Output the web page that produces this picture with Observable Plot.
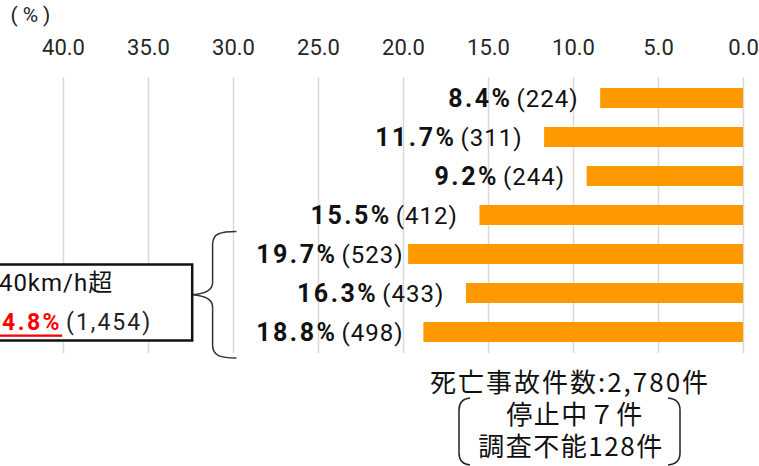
<!DOCTYPE html>
<html>
<head>
<meta charset="utf-8">
<script src="https://cdn.jsdelivr.net/npm/d3@7"></script>
<script src="https://cdn.jsdelivr.net/npm/@observablehq/plot@0.6"></script>
<style>
  html, body { margin: 0; padding: 0; background: #fff; }
  #chart svg { display: block; overflow: visible; }
</style>
</head>
<body>
<div id="chart"></div>
<script>
// Speed bands (not drawn as axis labels), share of fatal accidents (%) and counts
const categories = ["10km/h以下", "10〜20km/h", "20〜30km/h", "30〜40km/h", "40〜50km/h", "50〜60km/h", "60km/h超"];
const shares = [8.4, 11.7, 9.2, 15.5, 19.7, 16.3, 18.8];
const counts = [224, 311, 244, 412, 523, 433, 498];
const xTicks = [0, 5, 10, 15, 20, 25, 30, 35, 40];

// Bands grouped by the brace (above 40 km/h)
const overGroup = ["40〜50km/h", "50〜60km/h", "60km/h超"];
const groupLabel = "40km/h超";

// Totals shown below the chart
const totalFatal = 2780;
const stoppedCount = 7;
const unknownCount = 128;

const rows = categories.map((cat, i) => ({cat, share: shares[i], count: counts[i]}));
const fmt = d3.format(",");
const font = "Roboto, 'Noto Sans CJK JP', sans-serif";
const cjk = "'Noto Sans CJK JP', sans-serif";

const plot = Plot.plot({
  width: 759,
  height: 466,
  marginTop: 77,
  marginBottom: 113,
  marginLeft: 63,
  marginRight: 16,
  style: {fontFamily: font, background: "#fff", overflow: "visible"},
  x: {domain: [0, 40], reverse: true},
  y: {domain: categories, paddingInner: 0.5, paddingOuter: 0.25, axis: null},
  marks: [
    Plot.ruleX(xTicks, {stroke: "#d9d9d9", strokeWidth: 1.5}),
    Plot.axisX(xTicks, {
      anchor: "top", tickSize: 0, tickPadding: 23, label: null,
      tickFormat: d => d.toFixed(1), fontSize: 22, fill: "#262626"
    }),
    Plot.barX(rows, {x: "share", y: "cat", fill: "#FF9900"}),
    Plot.text(rows, {
      x: d => Math.min(d.share + 1.3, 20), y: "cat", dy: 1,
      text: d => `${d.share.toFixed(1)}%|(${d.count})`,
      textAnchor: "end", fontSize: 24, fill: "#111"
    }),
    Plot.text(["(%)"], {
      frameAnchor: "top-left", dx: -53, dy: -62, textAnchor: "start",
      lineAnchor: "middle", fontSize: 21, fill: "#262626"
    })
  ]
});

const svg = d3.select(plot);
const x = plot.scale("x");
const y = plot.scale("y");
const bw = y.bandwidth;
const cy = c => y.apply(c) + bw / 2;

// Bold share + regular count inside each bar label
svg.selectAll("text").each(function() {
  const s = this.textContent;
  if (!s.includes("|")) return;
  const [p, c] = s.split("|");
  const t = d3.select(this).text(null);
  t.append("tspan").attr("font-weight", "bold").attr("font-size", 25).attr("letter-spacing", 2.5).text(p);
  t.append("tspan").attr("dx", 4).attr("letter-spacing", 1).text(c);
});
svg.selectAll("text").filter(function() { return this.textContent === "(%)"; })
  .attr("letter-spacing", 5);

// Brace spanning the bands above 40 km/h
const gTop = y.apply(overGroup[0]) - 12.6;
const gBot = y.apply(overGroup[overGroup.length - 1]) + bw + 16;
const gMid = (gTop + gBot) / 2;
const bEnd = x.apply(29.8), bV = x.apply(31.2), bTip = x.apply(32.4);
const ann = svg.append("g");
ann.append("path")
  .attr("d", `M${bEnd},${gTop} C${bV + 8},${gTop} ${bV},${gTop + 2} ${bV},${gTop + 13}
    L${bV},${gMid - 12} C${bV},${gMid - 4} ${bV - 8},${gMid - 1} ${bTip},${gMid}
    C${bV - 8},${gMid + 1} ${bV},${gMid + 4} ${bV},${gMid + 12}
    L${bV},${gBot - 13} C${bV},${gBot - 2} ${bV + 8},${gBot} ${bEnd},${gBot}`)
  .attr("fill", "none").attr("stroke", "#333").attr("stroke-width", 1.5);

// Summary box
const boxR = bTip;
const boxTop = cy(overGroup[0]) + 10.5;
const boxBot = cy(overGroup[2]) + 8.5;
ann.append("rect")
  .attr("x", -30).attr("y", boxTop).attr("width", boxR + 30).attr("height", boxBot - boxTop)
  .attr("fill", "#fff").attr("stroke", "#111").attr("stroke-width", 2.5);

const groupRows = rows.filter(r => overGroup.includes(r.cat));
const groupShare = d3.sum(groupRows, r => r.share);
const groupCount = d3.sum(groupRows, r => r.count);

ann.append("text")
  .attr("x", boxR - 79).attr("y", boxTop + 18).attr("text-anchor", "end")
  .attr("dominant-baseline", "central").attr("font-size", 24).attr("fill", "#111")
  .attr("font-family", font).attr("letter-spacing", 1)
  .text(groupLabel);
const t2 = ann.append("text")
  .attr("x", boxR - 40).attr("y", boxTop + 57).attr("text-anchor", "end")
  .attr("dominant-baseline", "central").attr("font-size", 23).attr("fill", "#222")
  .attr("font-family", font);
t2.append("tspan").attr("font-weight", "bold").attr("fill", "#ff0000").attr("letter-spacing", 2.5)
  .attr("text-decoration", "underline").text(`${groupShare.toFixed(1)}%`);
t2.append("tspan").attr("dx", 4).attr("letter-spacing", 2).text(`(${fmt(groupCount)})`);

// Totals below the chart
const totals = ann.append("text")
  .attr("text-anchor", "middle").attr("dominant-baseline", "central")
  .attr("font-size", 26).attr("fill", "#111").attr("font-family", cjk);
totals.append("tspan").attr("x", 570).attr("y", 380).attr("letter-spacing", 2)
  .text(`死亡事故件数:${fmt(totalFatal)}件`);
totals.append("tspan").attr("x", 575).attr("y", 412).attr("letter-spacing", 1.5)
  .text(`停止中${String.fromCharCode(0xFF10 + stoppedCount)}件`);
totals.append("tspan").attr("x", 571).attr("y", 444).attr("letter-spacing", 1.5)
  .text(`調査不能${unknownCount}件`);

ann.append("path")
  .attr("d", "M470,398 Q459,399 459,410 L459,453 Q459,464 470,465")
  .attr("fill", "none").attr("stroke", "#222").attr("stroke-width", 1.5);
ann.append("path")
  .attr("d", "M668,398 Q680,399 680,410 L680,453 Q680,464 668,465")
  .attr("fill", "none").attr("stroke", "#222").attr("stroke-width", 1.5);

document.getElementById("chart").appendChild(plot);
</script>
</body>
</html>
